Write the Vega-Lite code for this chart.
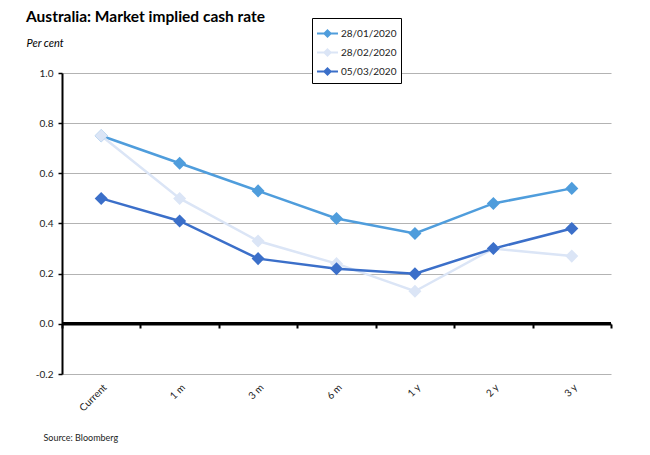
{
  "$schema": "https://vega.github.io/schema/vega-lite/v6.json",
  "description": "Australia: market implied cash rate on three dates.",
  "width": 549,
  "height": 301,
  "autosize": "none",
  "padding": {"left": 62, "top": 73, "right": 39, "bottom": 81},
  "background": "white",
  "config": {
    "view": {"stroke": null},
    "font": "Lato"
  },
  "title": {
    "text": "Australia: Market implied cash rate",
    "anchor": "start",
    "frame": "group",
    "fontSize": 15.5,
    "fontWeight": "bold",
    "color": "#000000",
    "dx": -36,
    "dy": 16,
    "offset": 8
  },
  "data": {
    "values": [
      {"tenor": "Current", "date": "28/01/2020", "rate": 0.75},
      {"tenor": "1 m", "date": "28/01/2020", "rate": 0.64},
      {"tenor": "3 m", "date": "28/01/2020", "rate": 0.53},
      {"tenor": "6 m", "date": "28/01/2020", "rate": 0.42},
      {"tenor": "1 y", "date": "28/01/2020", "rate": 0.36},
      {"tenor": "2 y", "date": "28/01/2020", "rate": 0.48},
      {"tenor": "3 y", "date": "28/01/2020", "rate": 0.54},
      {"tenor": "Current", "date": "28/02/2020", "rate": 0.75},
      {"tenor": "1 m", "date": "28/02/2020", "rate": 0.50},
      {"tenor": "3 m", "date": "28/02/2020", "rate": 0.33},
      {"tenor": "6 m", "date": "28/02/2020", "rate": 0.24},
      {"tenor": "1 y", "date": "28/02/2020", "rate": 0.13},
      {"tenor": "2 y", "date": "28/02/2020", "rate": 0.30},
      {"tenor": "3 y", "date": "28/02/2020", "rate": 0.27},
      {"tenor": "Current", "date": "05/03/2020", "rate": 0.50},
      {"tenor": "1 m", "date": "05/03/2020", "rate": 0.41},
      {"tenor": "3 m", "date": "05/03/2020", "rate": 0.26},
      {"tenor": "6 m", "date": "05/03/2020", "rate": 0.22},
      {"tenor": "1 y", "date": "05/03/2020", "rate": 0.20},
      {"tenor": "2 y", "date": "05/03/2020", "rate": 0.30},
      {"tenor": "3 y", "date": "05/03/2020", "rate": 0.38}
    ]
  },
  "layer": [
    {
      "mark": {"type": "rule", "color": "#000000", "strokeWidth": 2},
      "encoding": {"y": {"datum": 0, "type": "quantitative"}}
    },
    {
      "mark": {
        "type": "line",
        "strokeWidth": 2.5,
        "point": {"shape": "diamond", "size": 170, "filled": true, "opacity": 1}
      },
      "encoding": {
        "x": {
          "field": "tenor",
          "type": "ordinal",
          "sort": ["Current", "1 m", "3 m", "6 m", "1 y", "2 y", "3 y"],
          "scale": {"type": "band", "paddingInner": 0, "paddingOuter": 0},
          "axis": {
            "offset": -50,
            "domain": true,
            "domainColor": "#000000",
            "domainWidth": 2,
            "ticks": true,
            "tickBand": "extent",
            "tickColor": "#000000",
            "tickWidth": 2,
            "tickSize": 4,
            "labelAngle": -45,
            "labelFontSize": 10,
            "labelColor": "#222222",
            "labelPadding": 54,
            "title": "Source: Bloomberg",
            "titleFontSize": 9,
            "titleFontWeight": "normal",
            "titleColor": "#222222",
            "titleAnchor": "start",
            "titleAlign": "left",
            "titleBaseline": "alphabetic",
            "titleX": -19,
            "titleY": 116
          }
        },
        "y": {
          "field": "rate",
          "type": "quantitative",
          "scale": {"domain": [-0.2, 1.0], "nice": false, "zero": false},
          "axis": {
            "values": [-0.2, 0, 0.2, 0.4, 0.6, 0.8, 1.0],
            "format": ".1f",
            "labelExpr": "replace(datum.label, '\u2212', '-')",
            "domainColor": "#000000",
            "domainWidth": 2,
            "tickColor": "#000000",
            "tickWidth": 1.5,
            "tickSize": 4,
            "labelPadding": 5,
            "labelFontSize": 10,
            "labelColor": "#222222",
            "grid": true,
            "gridColor": "#b3b3b3",
            "gridWidth": 1.2,
            "title": "Per cent",
            "titleFontSize": 11,
            "titleFontWeight": "normal",
            "titleFontStyle": "italic",
            "titleColor": "#000000",
            "titleAngle": 0,
            "titleAlign": "left",
            "titleBaseline": "alphabetic",
            "titleX": -36,
            "titleY": -27
          }
        },
        "color": {
          "field": "date",
          "type": "nominal",
          "sort": ["28/01/2020", "28/02/2020", "05/03/2020"],
          "scale": {
            "domain": ["28/01/2020", "28/02/2020", "05/03/2020"],
            "range": ["#4f9ddc", "#dbe5f6", "#3b6fc9"]
          },
          "legend": {
            "orient": "none",
            "legendX": 250,
            "legendY": -55,
            "title": null,
            "strokeColor": "#000000",
            "fillColor": "#ffffff",
            "padding": 4,
            "rowPadding": 0,
            "labelFontSize": 10,
            "labelColor": "#222222",
            "labelOffset": 2,
            "symbolType": "M-1,0H1M0,-0.3L0.3,0L0,0.3L-0.3,0Z",
            "symbolSize": 440,
            "symbolStrokeWidth": 2,
            "encode": {
              "symbols": {
                "update": {
                  "fill": {"scale": "color", "field": "value"},
                  "stroke": {"scale": "color", "field": "value"}
                }
              }
            }
          }
        }
      }
    }
  ]
}
